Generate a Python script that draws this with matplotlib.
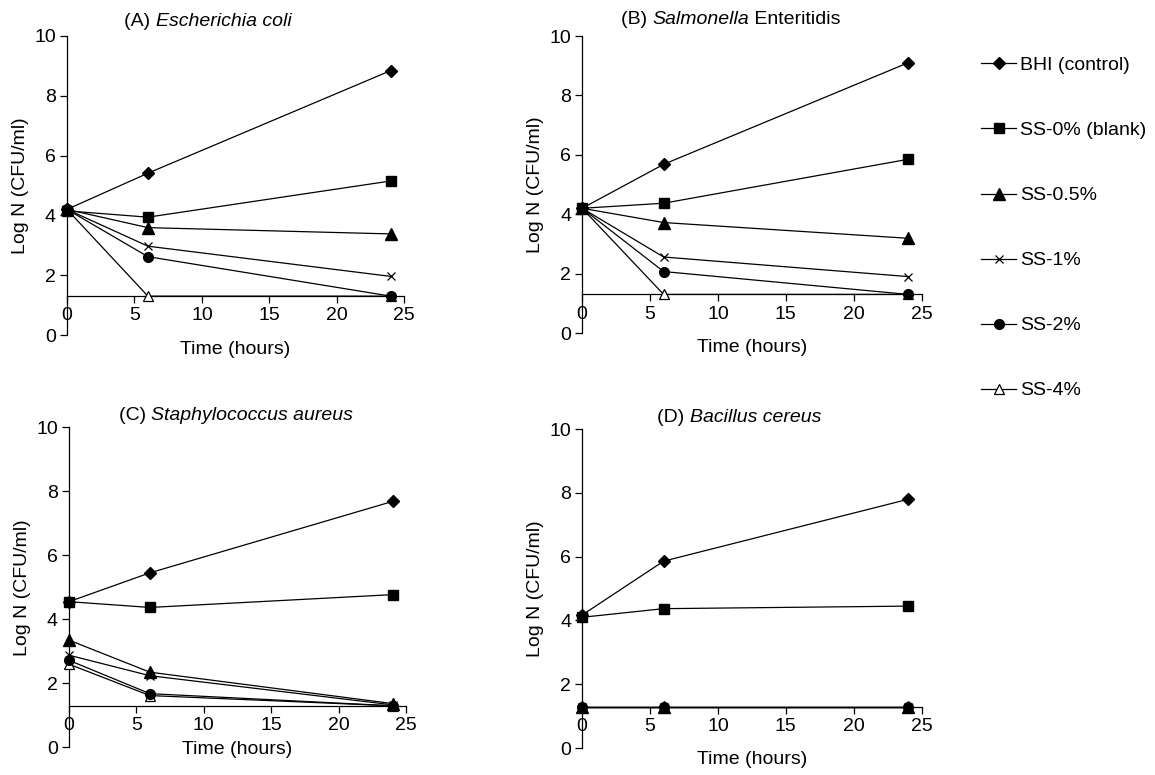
import numpy as np
import matplotlib
matplotlib.use("Agg")
import matplotlib.pyplot as plt

plt.rcParams['font.family'] = ['Liberation Sans', 'DejaVu Sans']

# sampling times (hours)
hours = [0, 6, 24]

series_labels = ['BHI (control)', 'SS-0% (blank)', 'SS-0.5%', 'SS-1%', 'SS-2%', 'SS-4%']

# (A) Escherichia coli
ecoli_bhi = [4.2, 5.41, 8.84]
ecoli_ss0 = [4.15, 3.94, 5.15]
ecoli_ss05 = [4.2, 3.59, 3.38]
ecoli_ss1 = [4.2, 2.97, 1.96]
ecoli_ss2 = [4.2, 2.62, 1.3]
ecoli_ss4 = [4.2, 1.3, 1.3]

# (B) Salmonella Enteritidis
salm_bhi = [4.2, 5.68, 9.1]
salm_ss0 = [4.2, 4.37, 5.85]
salm_ss05 = [4.2, 3.72, 3.19]
salm_ss1 = [4.2, 2.56, 1.9]
salm_ss2 = [4.2, 2.07, 1.3]
salm_ss4 = [4.2, 1.3, 1.3]

# (C) Staphylococcus aureus
staph_bhi = [4.55, 5.45, 7.68]
staph_ss0 = [4.55, 4.37, 4.77]
staph_ss05 = [3.35, 2.35, 1.37]
staph_ss1 = [2.88, 2.24, 1.33]
staph_ss2 = [2.72, 1.68, 1.3]
staph_ss4 = [2.6, 1.62, 1.3]

# (D) Bacillus cereus
bac_bhi = [4.17, 5.86, 7.8]
bac_ss0 = [4.1, 4.37, 4.45]
bac_ss05 = [1.3, 1.3, 1.3]
bac_ss1 = [1.3, 1.3, 1.3]
bac_ss2 = [1.3, 1.3, 1.3]
bac_ss4 = [1.3, 1.3, 1.3]

detection_limit = 1.3
fs = 14

styles = [
    dict(marker='D', ms=6, mfc='black', zorder=8),
    dict(marker='s', ms=7, mfc='black', zorder=7),
    dict(marker='^', ms=8, mfc='black', zorder=5),
    dict(marker='x', ms=5.5, mew=0.9, zorder=4),
    dict(marker='o', ms=7, mfc='black', zorder=6),
    dict(marker='^', ms=7, mfc='white', mew=0.9, zorder=3),
]

# axes rect, title pieces, title centre (px), xlabel pad, data
panels = [
    ([0.058, 0.5677, 0.292, 0.386], ['(A) ', 'Escherichia coli', ''], (208, 22), 12,
     [ecoli_bhi, ecoli_ss0, ecoli_ss05, ecoli_ss1, ecoli_ss2, ecoli_ss4]),
    ([0.504, 0.5703, 0.294, 0.3832], ['(B) ', 'Salmonella', ' Enteritidis'], (731, 20), 12,
     [salm_bhi, salm_ss0, salm_ss05, salm_ss1, salm_ss2, salm_ss4]),
    ([0.0597, 0.0355, 0.292, 0.4135], ['(C) ', 'Staphylococcus aureus', ''], (236, 415), 5,
     [staph_bhi, staph_ss0, staph_ss05, staph_ss1, staph_ss2, staph_ss4]),
    ([0.504, 0.0348, 0.294, 0.4115], ['(D) ', 'Bacillus cereus', ''], (739, 417), 12,
     [bac_bhi, bac_ss0, bac_ss05, bac_ss1, bac_ss2, bac_ss4]),
]

fig = plt.figure(figsize=(11.55, 7.75), dpi=100)
W, H = 1155.0, 775.0
r = fig.canvas.get_renderer()

handles = []
for rect, title_parts, tpos, xpad, data in panels:
    ax = fig.add_axes(rect)
    lines = []
    for vals, st, lab in zip(data, styles, series_labels):
        ln, = ax.plot(hours, vals, color='black', lw=0.9, mec='black',
                      label=lab, clip_on=False, **st)
        lines.append(ln)
    if not handles:
        handles = lines
    ax.set_xlim(0, 25)
    ax.set_ylim(0, 10)
    ax.set_xticks([0, 5, 10, 15, 20, 25])
    ax.set_yticks([0, 2, 4, 6, 8, 10])
    ax.spines['top'].set_visible(False)
    ax.spines['right'].set_visible(False)
    ax.spines['bottom'].set_position(('data', detection_limit))
    for sp in ax.spines.values():
        sp.set_linewidth(0.9)
    ax.tick_params(direction='out', length=5, width=0.9, labelsize=fs,
                   colors='black', pad=3)
    ax.set_xlabel('Time (hours)', fontsize=fs, labelpad=xpad)
    ax.set_ylabel('Log N (CFU/ml)', fontsize=fs, labelpad=4)

    # title: plain prefix, italic genus/species, plain suffix
    parts = [(s, stl) for s, stl in zip(title_parts, ['normal', 'italic', 'normal'])]
    widths = []
    for s, stl in parts:
        tt = fig.text(0, 0, s, fontsize=fs, style=stl)
        widths.append(tt.get_window_extent(r).width if s else 0)
        tt.remove()
    x0 = tpos[0] - sum(widths) / 2
    for (s, stl), w in zip(parts, widths):
        if s:
            fig.text(x0 / W, 1 - tpos[1] / H, s, fontsize=fs, style=stl,
                     ha='left', va='center')
        x0 += w

fig.legend(handles=handles, labels=series_labels, loc='upper left',
           bbox_to_anchor=(0.843, 0.937), frameon=False, fontsize=fs,
           handlelength=1.8, handletextpad=0.2, labelspacing=2.44,
           borderaxespad=0)

fig.savefig('out.png', dpi=100, facecolor='white')
